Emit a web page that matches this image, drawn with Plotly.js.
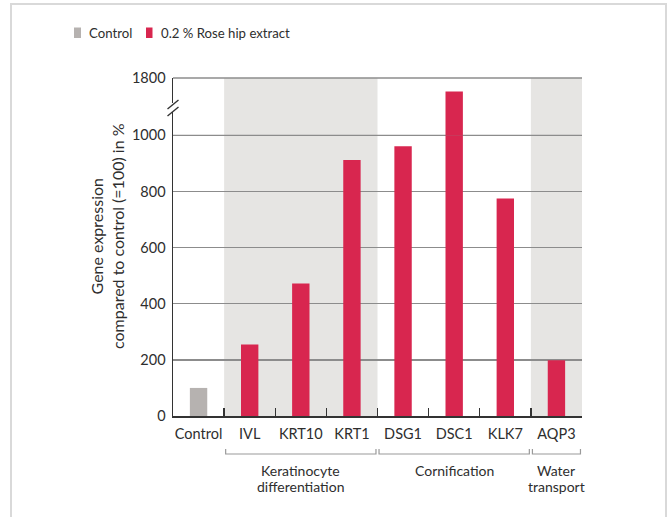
<!DOCTYPE html>
<html>
<head>
<meta charset="utf-8">
<script src="https://cdn.plot.ly/plotly-3.0.1.min.js"></script>
<style>
  html, body { margin: 0; padding: 0; background: #ffffff; }
  #wrap { position: relative; width: 670px; height: 517px; overflow: hidden; }
  #chart { width: 670px; height: 517px; }
  #frame {
    position: absolute; left: 10px; top: 3px; width: 653px; height: 530px;
    border: 2px solid #d9d9d9; pointer-events: none;
  }
</style>
</head>
<body>
<div id="wrap">
  <div id="chart"></div>
  <div id="frame"></div>
</div>
<script>
// Gene expression data (percent of control, control = 100)
const categories = ['Control', 'IVL', 'KRT10', 'KRT1', 'DSG1', 'DSC1', 'KLK7', 'AQP3'];
const controlCategories = ['Control'];
const controlValues = [100];
const extractGenes = ['IVL', 'KRT10', 'KRT1', 'DSG1', 'DSC1', 'KLK7', 'AQP3'];
const extractValues = [255, 472, 912, 961, 1610, 775, 199];
const seriesNames = ['Control', '0.2 % Rose hip extract'];

// Functional groups of the genes (one entry per text line)
const groupLines = [['Keratinocyte', 'differentiation'], ['Cornification'], ['Water', 'transport']];
const groupFirst = ['IVL', 'DSG1', 'AQP3'];
const groupLast = ['KRT1', 'KLK7', 'AQP3'];
const groupShaded = [true, false, true];

// Broken y axis: lower segment and compressed upper segment
const lowerTicks = [0, 200, 400, 600, 800, 1000];
const upperTicks = [1800];
const lowerRange = [0, 1000];
const upperRange = [1000, 1800];

// ---- styling / geometry ----
const W = 670, H = 517;
const M = { l: 173, r: 88, t: 78, b: 101 };
const PW = W - M.l - M.r, PH = H - M.t - M.b;
const px = x => (x - M.l) / PW;           // pixel -> paper x
const py = y => (H - M.b - y) / PH;       // pixel -> paper y
const split = py(135.3);                   // boundary between the two y segments

const RED = '#d8264f';
const GREY = '#b6b2b0';
const BAND = '#e6e5e3';
const TXT = '#2e2e2e';
const FONT = 'Lato, "Open Sans", sans-serif';

const idx = c => categories.indexOf(c);

const barWidth = 0.34;
const traces = [];
['y', 'y2'].forEach(ya => {
  traces.push({
    type: 'bar', x: controlCategories, y: controlValues, name: seriesNames[0],
    yaxis: ya, xaxis: 'x', width: barWidth, marker: { color: GREY },
    showlegend: false, hoverinfo: 'skip'
  });
  traces.push({
    type: 'bar', x: extractGenes, y: extractValues, name: seriesNames[1],
    yaxis: ya, xaxis: 'x', width: barWidth, marker: { color: RED },
    showlegend: false, hoverinfo: 'skip'
  });
});

const shapes = [];
const annotations = [];

// shaded group bands, brackets and group names
groupLines.forEach((lines, i) => {
  const x0 = idx(groupFirst[i]) - 0.5, x1 = idx(groupLast[i]) + 0.5;
  if (groupShaded[i]) {
    shapes.push({ type: 'rect', layer: 'below', xref: 'x', yref: 'paper',
      x0: x0, x1: x1, y0: 0, y1: 1, fillcolor: BAND, line: { width: 0 } });
  }
  const b0 = x0 + 0.03, b1 = x1 - 0.03;
  const yl = py(454), yt = py(449);
  shapes.push({ type: 'path', xref: 'x', yref: 'paper',
    path: `M${b0},${yt} L${b0},${yl} L${b1},${yl} L${b1},${yt}`,
    line: { color: '#9a9a9a', width: 1.2 } });
  lines.forEach((t, k) => {
    annotations.push({ xref: 'x', yref: 'paper', x: (x0 + x1) / 2, y: py(470 + 16.5 * k),
      xanchor: 'center', yanchor: 'middle', showarrow: false,
      text: t, font: { family: FONT, size: 14, color: TXT } });
  });
});

// gridlines at the 1000 boundary and the 1800 top
shapes.push({ type: 'line', xref: 'paper', yref: 'paper', x0: 0, x1: 1, y0: split, y1: split,
  line: { color: '#8c8c8c', width: 1.3 }, layer: 'below' });
shapes.push({ type: 'line', xref: 'paper', yref: 'paper', x0: 0, x1: 1, y0: 1, y1: 1,
  line: { color: '#8c8c8c', width: 1.3 }, layer: 'below' });

// axis break marks
shapes.push({ type: 'rect', xref: 'paper', yref: 'paper', xsizemode: 'pixel', ysizemode: 'pixel',
  xanchor: 0, yanchor: 1, x0: -3, x1: 3, y0: -25, y1: -34,
  fillcolor: '#ffffff', line: { width: 0 } });
shapes.push({ type: 'line', xref: 'paper', yref: 'paper', xsizemode: 'pixel', ysizemode: 'pixel',
  xanchor: 0, yanchor: 1, x0: -5.5, x1: 5.5, y0: -31, y1: -22,
  line: { color: '#333333', width: 1.4 } });
shapes.push({ type: 'line', xref: 'paper', yref: 'paper', xsizemode: 'pixel', ysizemode: 'pixel',
  xanchor: 0, yanchor: 1, x0: -5.5, x1: 5.5, y0: -38, y1: -29,
  line: { color: '#333333', width: 1.4 } });

// legend
const swatches = [[74, 81, GREY, 88], [146, 152.5, RED, 160]];
seriesNames.forEach((n, i) => {
  const s = swatches[i];
  shapes.push({ type: 'rect', xref: 'paper', yref: 'paper',
    x0: px(s[0]), x1: px(s[1]), y0: py(38), y1: py(27.5),
    fillcolor: s[2], line: { width: 0 } });
  annotations.push({ xref: 'paper', yref: 'paper', x: px(s[3] - 1), y: py(33),
    xanchor: 'left', yanchor: 'middle', showarrow: false, text: n,
    font: { family: FONT, size: 13.2, color: TXT } });
});

// y axis title
annotations.push({ xref: 'paper', yref: 'paper', x: px(107), y: py(236),
  xanchor: 'center', yanchor: 'middle', textangle: -90, showarrow: false,
  text: 'Gene expression<br>compared to control (=100) in %',
  font: { family: FONT, size: 16, color: TXT } });

const layout = {
  width: W, height: H,
  margin: M,
  paper_bgcolor: 'rgba(0,0,0,0)',
  plot_bgcolor: 'rgba(0,0,0,0)',
  barmode: 'overlay',
  showlegend: false,
  font: { family: FONT, size: 14, color: TXT },
  xaxis: {
    type: 'category', categoryorder: 'array', categoryarray: categories,
    range: [-0.5, categories.length - 0.5], fixedrange: true,
    anchor: 'y', showline: true, linecolor: '#333333', linewidth: 1.5,
    ticks: 'inside', ticklen: 8, tickwidth: 1.4, tickcolor: '#333333',
    tickson: 'boundaries', showgrid: false, zeroline: false, tickangle: 0,
    tickfont: { family: FONT, size: 14.5, color: TXT }, ticklabelstandoff: 4
  },
  yaxis: {
    domain: [0, split], range: lowerRange, tickvals: lowerTicks,
    ticktext: lowerTicks.map(String),
    showline: true, linecolor: '#333333', linewidth: 1.5, ticks: '',
    showgrid: true, gridcolor: '#8c8c8c', gridwidth: 1.3, zeroline: false,
    tickfont: { family: FONT, size: 14.5, color: TXT }, ticklabelstandoff: 3,
    anchor: 'x'
  },
  yaxis2: {
    domain: [split, 1], range: upperRange, tickvals: upperTicks,
    ticktext: upperTicks.map(String),
    showline: true, linecolor: '#333333', linewidth: 1.5, ticks: '',
    showgrid: false, zeroline: false,
    tickfont: { family: FONT, size: 14.5, color: TXT }, ticklabelstandoff: 3,
    anchor: 'x'
  },
  shapes: shapes,
  annotations: annotations
};

Plotly.newPlot('chart', traces, layout, { staticPlot: true, displayModeBar: false });
</script>
</body>
</html>
